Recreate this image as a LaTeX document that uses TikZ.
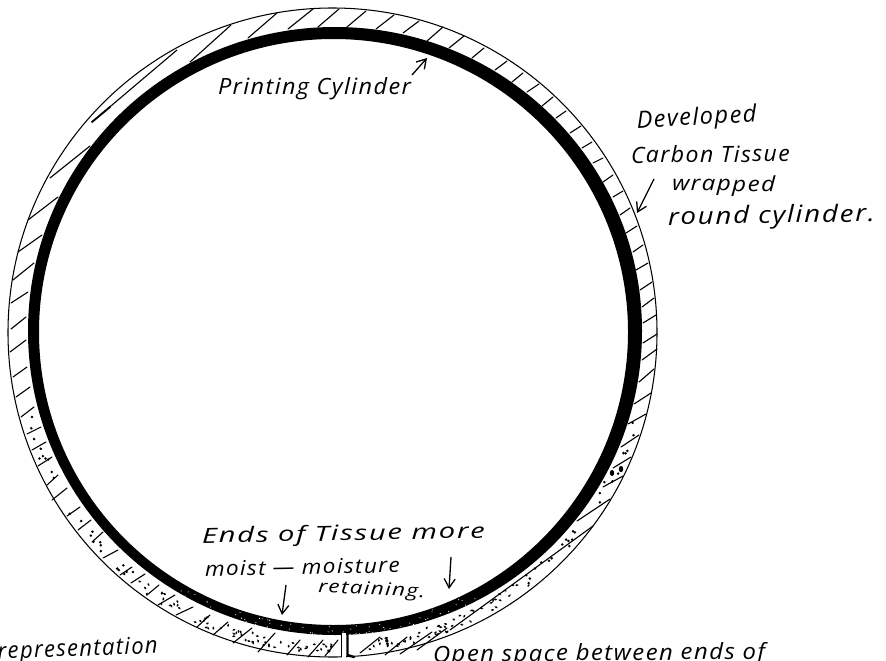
\documentclass[tikz,border=0pt]{standalone}
\usepackage{fontspec}
\usetikzlibrary{arrows.meta}
\newfontfamily\handfont[LetterSpace=6]{Open Sans}
\newcommand{\hw}[3]{\resizebox{#1pt}{#2pt}{\handfont\itshape\fontsize{19}{22}\selectfont #3}}
\tikzset{
  hand/.style={anchor=base west,inner sep=0pt,outer sep=0pt,text=black},
  hatch/.style={line width=1.1pt,black,line cap=round},
  rimline/.style={line width=1.05pt,black},
  pointer/.style={line width=1.3pt,black,-{Straight Barb[length=9pt,width=11pt,line width=1.3pt]}},
  speck/.style={black}
}
\begin{document}
\begin{tikzpicture}[x=1pt,y=-1pt]
\useasboundingbox (0,0) rectangle (886,661);
\clip (0,0) rectangle (886,661);
\fill[white] (0,0) rectangle (886,661);
% printing cylinder (black ring)
\fill[black,even odd rule] (335,331) ellipse [x radius=307,y radius=304]
  (333.5,332) ellipse [x radius=294.5,y radius=293];
% outer tissue circle
\draw[rimline] (332.5,332.5) circle [radius=324.5];
% hatching of the tissue
\foreach \ax/\ay/\bx/\by in {
 190/62/231/25,248/38/277/13,288/29/313/9,318/27/339/9,347/27/366/11,376/29/394/15,
 403/33/419/21,427/41/443/27,449/48/464/36,472/58/484/48,495/70/507/61,512/82/523/73,
 527/92/539/84,542/106/553/97,556/118/566/111,570/133/581/126,582/148/592/142,
 593/163/603/158,603/182/613/175,613/197/623/191,620/215/630/208,626/233/637/226,
 633/252/643/245,636/270/648/263,640/290/652/282,642/307/654/298,643/323/656/315,
 643/343/657/334,642/360/657/349,639/382/654/369,634/404/651/393,628/424/646/414,
 621/447/639/435,613/468/631/457,603/487/623/476,577/521/610/499,450/630/593/526,
 417/650/447/628,400/654/432/632,385/655/407/637,360/653/380/637,
 325/656/338/640,308/657/323/640,287/655/300/640,258/652/275/633,233/643/252/628,
 213/635/228/622,197/627/210/615,176/615/193/607,158/605/175/595,147/595/159/585,
 131/583/145/574,120/575/132/567,103/558/118/550,92/542/103/532,78/530/91/520,
 67/516/80/507,52/500/67/488,47/485/58/475,38/466/52/457,32/450/46/442,27/434/41/427,
 21/417/34/407,16/397/30/387,13/377/27/367,10/352/26/340,11/329/26/317,11/303/28/292,
 13/280/34/263,18/252/42/235,28/220/58/197,50/178/90/146,92/122/177/50}
  {\draw[hatch] (\ax,\ay) -- (\bx,\by);}
\draw[line width=1.8pt,line cap=round] (92,122) -- (110,107);
% slit between the ends of the tissue
\fill[white] (342,633) rectangle (346,659);
\draw[line width=1pt] (341,634) -- (341,657);
\draw[line width=2.4pt,line cap=round] (347.5,634) -- (347.5,655) -- (354,657);
% moisture stipple
\pgfmathsetseed{4711}
\foreach \i in {1,...,125}{
  \pgfmathsetmacro{\tt}{52+rnd*76}
  \pgfmathsetmacro{\rr}{310+rnd*11}
  \pgfmathsetmacro{\aa}{rnd*180}
  \ifdim \tt pt>84.5pt \ifdim \tt pt<89.5pt \def\tt{80}\fi\fi
  \fill[speck] ({332.5+\rr*cos(\tt)},{332.5+\rr*sin(\tt)}) circle [x radius=1.7,y radius=1,rotate=\aa];
}
\foreach \i in {1,...,24}{
  \pgfmathsetmacro{\tt}{14+rnd*38}
  \pgfmathsetmacro{\rr}{310+rnd*9}
  \fill[speck] ({332.5+\rr*cos(\tt)},{332.5+\rr*sin(\tt)}) circle [radius=1.4];
}
\foreach \i in {1,...,24}{
  \pgfmathsetmacro{\tt}{128+rnd*37}
  \pgfmathsetmacro{\rr}{311+rnd*9}
  \fill[speck] ({332.5+\rr*cos(\tt)},{332.5+\rr*sin(\tt)}) circle [radius=1.4];
}
\fill (612,473) ellipse [x radius=2.2,y radius=3];
\fill (621,469) ellipse [x radius=2.2,y radius=3.2];
% white flecks in the ring near the bottom
\foreach \i in {1,...,60}{
  \pgfmathsetmacro{\tt}{62+rnd*60}
  \pgfmathsetmacro{\rr}{295+rnd*9}
  \fill[white] ({334+\rr*cos(\tt)},{331.5+\rr*sin(\tt)}) circle [radius=0.55];
}
% labels
\node[hand] (cyl) at (218,95) {\hw{193}{17}{Printing Cylinder}};
\node[hand,rotate=3] (dev) at (637,128) {\hw{120}{18}{Developed}};
\node[hand,rotate=0.5] (car) at (631,163) {\hw{159}{17}{Carbon Tissue}};
\node[hand,rotate=-1] (wra) at (672,190) {\hw{103}{16}{wrapped}};
\node[hand,rotate=1] (rou) at (668,225) {\hw{207}{18}{round cylinder.}};
\node[hand,rotate=1] (end) at (202,543) {\hw{283}{16}{Ends of Tissue more}};
\node[hand,rotate=1] (moi) at (205,576) {\hw{195}{15}{moist — moisture}};
\node[hand,rotate=-3] (ret) at (318,592) {\hw{107}{13}{retaining.}};
\node[hand,rotate=2] (rep) at (-2,659) {\hw{160}{17}{representation}};
\node[hand,rotate=0.5] (ope) at (433,662) {\hw{332}{17}{Open space between ends of}};
% pointers
\coordinate (p1a) at (412,75); \coordinate (p1b) at (427,58);
\coordinate (p2a) at (654,179); \coordinate (p2b) at (637,213);
\coordinate (p3a) at (286,585); \coordinate (p3b) at (282,615);
\coordinate (p4a) at (451,557); \coordinate (p4b) at (449,589);
\draw[pointer] (p1a) -- (p1b);
\draw[pointer] (p2a) -- (p2b);
\draw[pointer] (p3a) -- (p3b);
\draw[pointer] (p4a) -- (p4b);
\end{tikzpicture}
\end{document}
